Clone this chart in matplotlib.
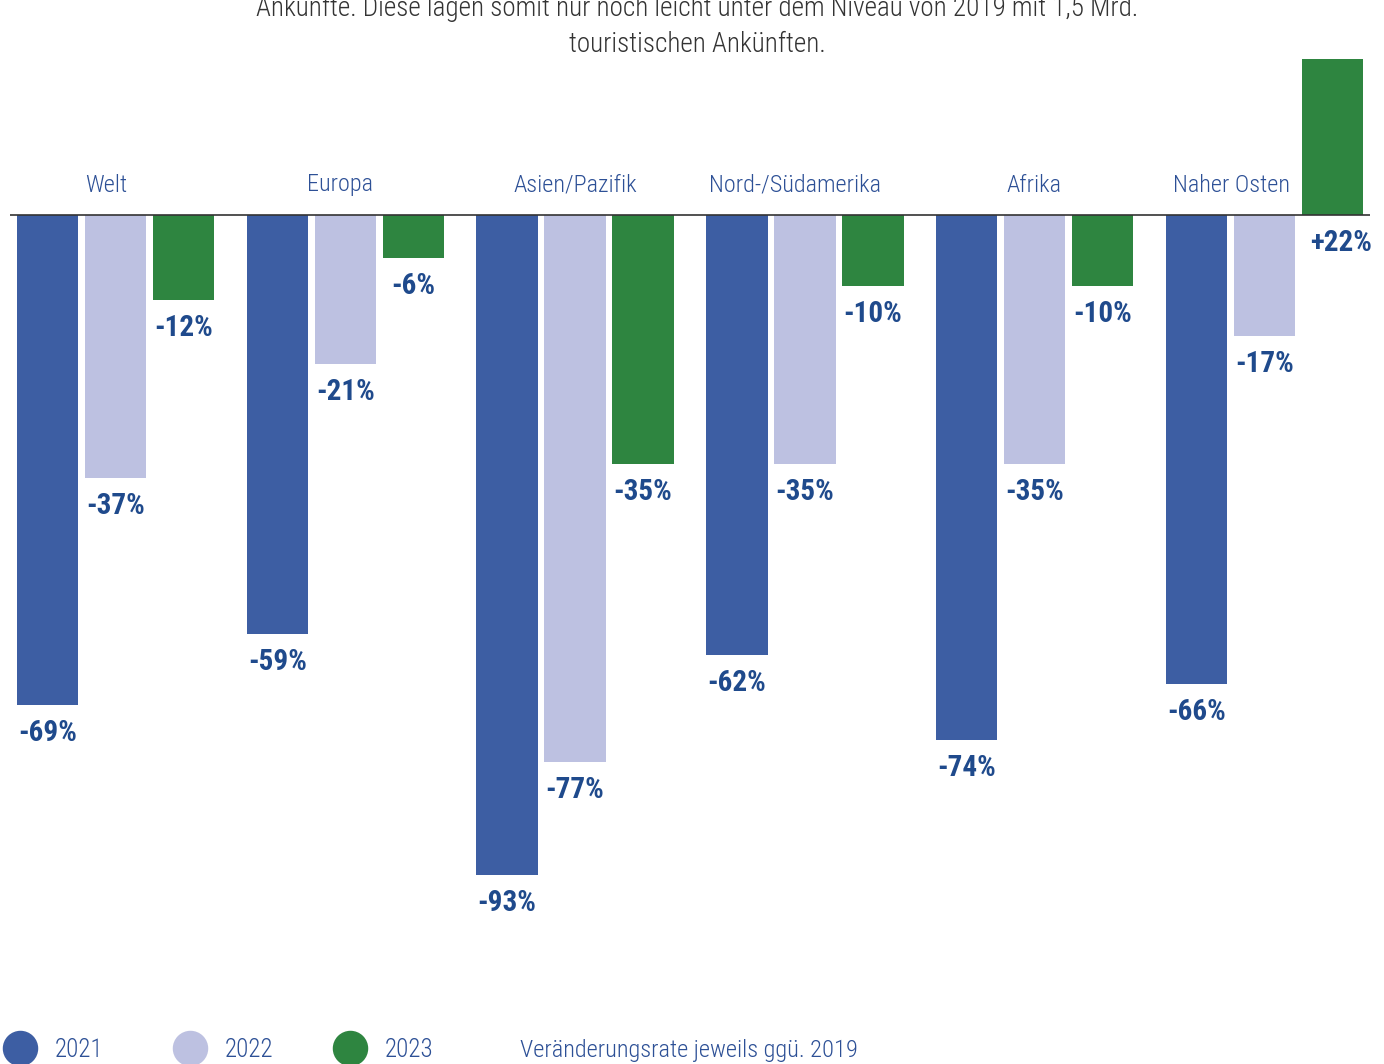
import matplotlib
matplotlib.use("Agg")
import matplotlib.pyplot as plt
import numpy as np
from matplotlib import font_manager

# Data
regions = ["Welt", "Europa", "Asien/Pazifik", "Nord-/Südamerika", "Afrika", "Naher Osten"]
years = ["2021", "2022", "2023"]
v2021 = [-69, -59, -93, -62, -74, -66]
v2022 = [-37, -21, -77, -35, -35, -17]
v2023 = [-12, -6, -35, -10, -10, 22]
colors = ["#3d5ea3", "#bdc1e1", "#2e8540"]
title_lines = ["Ankünfte. Diese lagen somit nur noch leicht unter dem Niveau von 2019 mit 1,5 Mrd.",
               "touristischen Ankünften."]
note = "Veränderungsrate jeweils ggü. 2019"

# pick a condensed family that is installed, with the weight needed
fonts = font_manager.fontManager.ttflist


def pick(prefs, weight):
    for name in prefs:
        ws = [f.weight for f in fonts if f.name == name and f.style == "normal"]
        ws = [int(w) if str(w).isdigit() else 400 for w in ws]
        if any(abs(w - weight) <= 100 for w in ws):
            return name
    return "DejaVu Sans"


cond = ["Roboto Condensed", "Fira Sans Condensed", "Archivo Narrow", "PT Sans Narrow",
        "Barlow Condensed", "Liberation Sans Narrow", "Pragati Narrow", "Open Sans"]
f_reg = pick(cond, 300)
f_bold = pick(cond, 700)
plt.rcParams["font.family"] = [f_reg, "DejaVu Sans"]

W, H = 1384, 1064
fig = plt.figure(figsize=(W / 100, H / 100), dpi=100)

# main axes: x from px 10 to 1370, y full height
ax = fig.add_axes([10 / W, 0, 1360 / W, 1])
scale = 7.1  # px per percent
base = 215
ax.set_ylim(-(H - base) / scale, base / scale)
gstep = 3.38
ax.set_xlim(-0.55, 5 * gstep + 2 + 0.55)
ax.axis("off")

series = [v2021, v2022, v2023]
gx = np.arange(len(regions)) * gstep
for j, vals in enumerate(series):
    xs = gx + j
    ax.bar(xs, vals, width=0.9, color=colors[j], zorder=2)
    for x, v in zip(xs, vals):
        lab = f"{v:+d}%" if v > 0 else f"{v}%"
        yy = min(v, 0)
        ax.annotate(lab, (x, yy), xytext=(0 if v < 0 else 8, -14), textcoords="offset pixels",
                    ha="center", va="top", fontsize=21, fontweight="bold", color="#1f4a8c",
                    family=[f_bold, "DejaVu Sans"])

ax.axhline(0, color="#333333", lw=1.2, zorder=3)
# region names sit slightly left of the group centre (Naher Osten avoids the green bar)
name_shift = [-9, -5, 0, -10, -1, -33]
for x, r, dx in zip(gx + 1, regions, name_shift):
    ax.annotate(r, (x, 0), xytext=(dx, 30), textcoords="offset pixels",
                ha="center", va="center", fontsize=17.5, color="#2d5096", fontweight="light")

# overlay in pixel coordinates for title text and legend
ov = fig.add_axes([0, 0, 1, 1], zorder=5)
ov.set_xlim(0, W)
ov.set_ylim(H, 0)
ov.axis("off")
ov.patch.set_alpha(0)
ov.text(697, 8, title_lines[0], ha="center", va="center", fontsize=19.5, color="#333333",
        fontweight="light")
ov.text(697, 45, title_lines[1], ha="center", va="center", fontsize=19.5, color="#333333",
        fontweight="light")

for cx, c, y in zip([20, 190, 350], colors, years):
    ov.scatter([cx], [1048], s=34 ** 2 * 0.52, color=c, clip_on=False, zorder=2)
    ov.text(cx + 35, 1050, y, ha="left", va="center", fontsize=18, color="#2d5096",
            fontweight="light")
ov.text(520, 1050, note, ha="left", va="center", fontsize=17.6, color="#2d5096",
        fontweight="light")

fig.savefig("out.png", dpi=100)
